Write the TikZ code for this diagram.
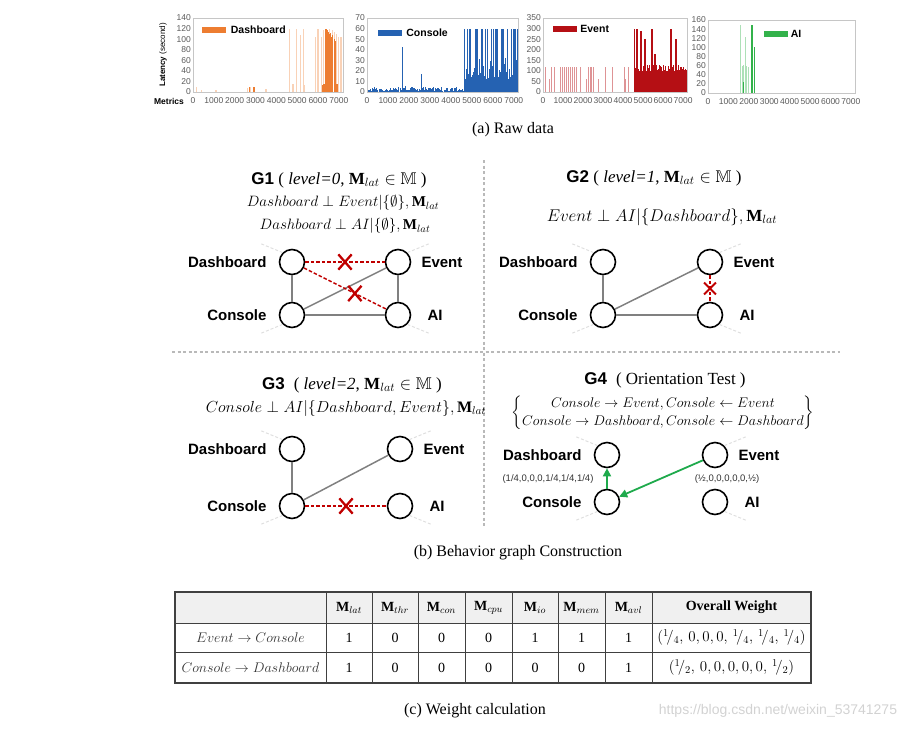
\documentclass[tikz,border=0pt]{standalone}
\usepackage{fix-cm}
\usepackage{amsmath}
\usepackage{amssymb}
\usepackage{fontspec}
\setmainfont{Liberation Serif}
\setsansfont{Liberation Sans}
\usepackage{xcolor}
\usepackage{tikz}
\usetikzlibrary{arrows.meta, positioning, shapes.misc}

\definecolor{dashorange}{HTML}{ED7D31}
\definecolor{consoleblue}{HTML}{2562B2}
\definecolor{eventred}{HTML}{B50F14}
\definecolor{aigreen}{HTML}{33B24B}
\definecolor{cutred}{HTML}{C00000}
\definecolor{arrowgreen}{HTML}{1FAA4C}

% frame and tick labels of one small chart: #1 max value, #2 step
\newcommand{\chartaxes}[2]{%
  \draw[chartframe] (0,0) rectangle (7200,#1);
  \foreach \val in {0,#2,...,#1}
    \node[ytick] (yt\val) at (0,\val) {\val};
  \foreach \m in {0,1000,...,7000}
    \node[xtick] (xt\m) at (\m,0) {\m};
}

\begin{document}
\begin{tikzpicture}[
    x=1pt, y=-1pt,
    chartframe/.style={draw=gray!45, line width=0.6pt},
    ytick/.style={anchor=east, inner sep=2pt, text=gray!70!black, font=\sffamily\fontsize{8.5}{9}\selectfont},
    xtick/.style={anchor=north, inner sep=0pt, yshift=-5pt, text=gray!70!black, font=\sffamily\fontsize{8.5}{9}\selectfont},
    swatch/.style={minimum width=24pt, minimum height=6pt, inner sep=0pt},
    legendtxt/.style={inner sep=0pt, font=\sffamily\bfseries\fontsize{10.5}{12}\selectfont},
    caption/.style={font=\fontsize{16}{19}\selectfont},
    separator/.style={draw=gray!55, line width=2.2pt, dash pattern=on 3pt off 2.5pt},
    gtitle/.style={font=\fontsize{17}{20}\selectfont},
    cond/.style={font=\fontsize{15}{18}\selectfont},
    vtx/.style={circle, draw, line width=1.6pt, fill=white, minimum size=25pt, inner sep=0pt},
    vlbl/.style={inner sep=0pt, font=\sffamily\bfseries\fontsize{15}{17}\selectfont},
    link/.style={draw=gray, line width=1.5pt},
    cutlink/.style={draw=cutred, line width=1.5pt, dash pattern=on 3.5pt off 2pt},
    cutx/.style={cross out, solid, draw=cutred, line width=2.3pt, minimum width=11pt, minimum height=13pt, inner sep=0pt},
    faint/.style={draw=gray!25, line width=1pt, dash pattern=on 3pt off 2pt},
    orient/.style={draw=arrowgreen, line width=1.8pt, -{Triangle[length=8pt, width=8pt]}},
    wlbl/.style={font=\sffamily\fontsize{9.5}{11}\selectfont, text=black!80},
    tline/.style={draw=black!75, line width=0.9pt},
    cell/.style={font=\fontsize{14}{16}\selectfont},
]
\useasboundingbox (0,0) rectangle (921,732);

% (a) raw data charts
\begin{scope}[xshift=193pt, yshift=-92pt, x=0.020833pt, y=0.52857pt]
  \foreach \p/\h in {150/10, 400/3, 1100/4, 2600/7, 2750/10, 3500/6, 4650/120, 4800/15, 4980/120, 5170/108, 5300/120, 5330/14, 5880/105, 6000/120, 6180/105, 6250/118, 6550/120, 6700/118, 6800/114, 6900/110, 7000/105, 7100/104}
    \fill[dashorange!35] (\p-30,0) rectangle (\p+30,\h);
  \foreach \p/\h in {2720/9, 2900/10, 2950/10, 6200/14, 6260/16, 6320/15, 6380/120, 6420/119, 6470/117, 6520/114, 6570/110, 6620/112, 6670/104, 6720/108, 6780/100, 6840/96, 6900/15, 6960/15}
    \fill[dashorange] (\p-25,0) rectangle (\p+25,\h);
  \chartaxes{140}{20}
\end{scope}

\begin{scope}[xshift=367pt, yshift=-92pt, x=0.020972pt, y=1.05714pt]
  \pgfmathsetseed{7}
  \foreach \p [evaluate={\p as \h using 1+3.5*rnd}] in {0,50,...,4600}
    \fill[consoleblue] (\p,0) rectangle (\p+40,\h);
  \foreach \p/\h in {1700/43, 1850/6, 2600/17, 3150/5}
    \fill[consoleblue] (\p-25,0) rectangle (\p+25,\h);
  \fill[consoleblue] (4650,0) rectangle (7200,12);
  \foreach \p [evaluate={\p as \h using ifthenelse(rnd>0.45,60,12+22*rnd)}] in {4650,4700,...,7150}
    \fill[consoleblue] (\p,0) rectangle (\p+40,\h);
  \chartaxes{70}{10}
\end{scope}

\begin{scope}[xshift=543pt, yshift=-92pt, x=0.02pt, y=0.21143pt]
  \foreach \p/\h in {100/120, 300/60, 400/120, 550/120, 850/120, 950/120, 1050/120, 1150/120, 1250/120, 1350/120, 1450/120, 1550/120, 1650/120, 1850/120, 2150/60, 2250/120, 2350/120, 2420/120, 2500/120, 2750/60, 3130/120, 3450/120, 4050/120, 4100/60, 4250/120}
    \fill[eventred!45] (\p-18,0) rectangle (\p+18,\h);
  \fill[eventred] (4600,0) rectangle (7200,100);
  \foreach \p [evaluate={\p as \h using 95+35*rnd}] in {4600,4650,...,7150}
    \fill[eventred] (\p,0) rectangle (\p+40,\h);
  \foreach \p/\h in {4580/300, 4700/300, 4900/290, 5100/250, 5450/300, 5600/180, 6400/300, 6650/250}
    \fill[eventred] (\p-30,0) rectangle (\p+30,\h);
  \chartaxes{350}{50}
\end{scope}

\begin{scope}[xshift=708pt, yshift=-93pt, x=0.020417pt, y=0.45625pt]
  \foreach \p/\h in {1600/150, 1680/60, 1750/62, 1830/123, 1900/60, 1980/58, 2150/55}
    \fill[aigreen!40] (\p-30,0) rectangle (\p+30,\h);
  \foreach \p/\h in {1720/25, 1760/20, 2150/150, 2200/150, 2260/100}
    \fill[aigreen] (\p-25,0) rectangle (\p+25,\h);
  \chartaxes{160}{20}
\end{scope}

\node[rotate=90, font=\sffamily\fontsize{8}{9}\selectfont] (ylab) at (163,55) {\textbf{Latency} (second)};
\node[font=\sffamily\bfseries\fontsize{8.5}{9}\selectfont] (xlab) at (169,101) {Metrics};

% Legends
\node[swatch, fill=dashorange] (sw1) at (213.5,30) {};
\node[legendtxt, right=5pt of sw1] (lg1) {Dashboard};
\node[swatch, fill=consoleblue] (sw2) at (390,33) {};
\node[legendtxt, right=4pt of sw2] (lg2) {Console};
\node[swatch, fill=eventred] (sw3) at (565,29) {};
\node[legendtxt, right=3pt of sw3] (lg3) {Event};
\node[swatch, fill=aigreen] (sw4) at (775.5,34) {};
\node[legendtxt, right=3pt of sw4] (lg4) {AI};

\node[caption] (capa) at (513,130) {(a) Raw data};

% (b) separators
\draw[separator] (484,160) -- (484,528);
\draw[separator] (172,352) -- (840,352);

% Titles and tests
\node[gtitle] (g1t) at (339,180) {{\sffamily\bfseries G1} ( \textit{level=0}, $\mathbf{M}_{lat}\in\mathbb{M}$ )};
\node[cond] (g1s1) at (343,203) {$Dashboard\perp Event|\{\emptyset\},\mathbf{M}_{lat}$};
\node[cond] (g1s2) at (345,226) {$Dashboard\perp AI|\{\emptyset\},\mathbf{M}_{lat}$};
\node[gtitle] (g2t) at (654,178) {{\sffamily\bfseries G2} ( \textit{level=1}, $\mathbf{M}_{lat}\in\mathbb{M}$ )};
\node[cond, font=\fontsize{17}{20}\selectfont] (g2s1) at (662,217) {$Event\perp AI|\{Dashboard\},\mathbf{M}_{lat}$};
\node[gtitle] (g3t) at (352,385) {{\sffamily\bfseries G3}\; ( \textit{level=2}, $\mathbf{M}_{lat}\in\mathbb{M}$ )};
\node[cond, font=\fontsize{16}{19}\selectfont] (g3s1) at (346,408) {$Console\perp AI|\{Dashboard, Event\},\mathbf{M}_{lat}$};
\node[gtitle] (g4t) at (665,380) {{\sffamily\bfseries G4}\; ( Orientation Test )};
\node[cond, font=\fontsize{14}{16}\selectfont] (g4s1) at (663,413) {$\left\{\begin{array}{@{}c@{}}Console\rightarrow Event, Console\leftarrow Event\\[2pt] Console\rightarrow Dashboard, Console\leftarrow Dashboard\end{array}\right\}$};

% Nodes
\foreach \g/\x/\y/\w/\dy in {g1/292/262/106/53, g2/603/262/107/53, g3/292/449/108/57, g4/607/455/108/47} {
  \node[vtx] (\g d) at (\x,\y) {};
  \node[vtx] (\g e) at (\x+\w,\y) {};
  \node[vtx] (\g c) at (\x,\y+\dy) {};
  \node[vtx] (\g a) at (\x+\w,\y+\dy) {};
  \node[vlbl, left=12pt of \g d] (\g dl) {Dashboard};
  \node[vlbl, right=10pt of \g e] (\g el) {Event};
  \node[vlbl, left=12pt of \g c] (\g cl) {Console};
  \node[vlbl, right=16pt of \g a] (\g al) {AI};
  \draw[faint] (\g d.north west) -- ++(-22,-9);
  \draw[faint] (\g e.north east) -- ++(22,-9);
  \draw[faint] (\g c.south west) -- ++(-22,9);
  \draw[faint] (\g a.south east) -- ++(22,9);
}

% Edges
\draw[link] (g1d) -- (g1c);
\draw[link] (g1c) -- (g1e);
\draw[link] (g1c) -- (g1a);
\draw[link] (g1e) -- (g1a);
\draw[cutlink] (g1d) -- node[cutx] (x1) {} (g1e);
\draw[cutlink] (g1d) -- node[cutx, pos=0.62] (x2) {} (g1a);

\draw[link] (g2d) -- (g2c);
\draw[link] (g2c) -- (g2e);
\draw[link] (g2c) -- (g2a);
\draw[cutlink] (g2e) -- node[cutx, line width=1.8pt, minimum width=10pt, minimum height=10pt] (x3) {} (g2a);

\draw[link] (g3d) -- (g3c);
\draw[link] (g3c) -- (g3e);
\draw[cutlink] (g3c) -- node[cutx] (x4) {} (g3a);

\draw[orient] (g4c) -- (g4d);
\draw[orient] (g4e) -- (g4c);
\node[wlbl] (w1) at (548,479) {(1/4,0,0,0,1/4,1/4,1/4)};
\node[wlbl] (w2) at (727,479) {(½,0,0,0,0,0,½)};

\node[caption] (capb) at (518,553) {(b) Behavior graph Construction};

% (c) table
\fill[gray!12] (175,592) rectangle (811,623);
\foreach \x in {326,372,418,465,512,558,605,652}
  \draw[tline] (\x,592) -- (\x,683);
\draw[tline] (175,623) -- (811,623);
\draw[tline] (175,652) -- (811,652);
\draw[tline, line width=1.3pt] (175,592) rectangle (811,683);

\foreach \x/\sub in {349/lat, 395/thr, 441.5/con, 488.5/cpu, 535/io, 581.5/mem, 628.5/avl}
  \node[cell] (m\sub) at (\x,607.5) {$\mathbf{M}_{\sub}$};
\node[cell, font=\bfseries\fontsize{14}{16}\selectfont] (mall) at (731.5,607.5) {Overall Weight};
\node[cell, text=black!80] (r1) at (250.5,637.5) {$Event\rightarrow Console$};
\node[cell, text=black!80] (r2) at (250.5,667.5) {$Console\rightarrow Dashboard$};
\foreach \x/\ra/\rb [count=\i] in {349/1/1, 395/0/0, 441.5/0/0, 488.5/0/0, 535/1/0, 581.5/1/0, 628.5/1/1} {
  \node[cell] (a\i) at (\x,637.5) {\ra};
  \node[cell] (b\i) at (\x,667.5) {\rb};
}
\node[cell, font=\fontsize{15}{17}\selectfont] (wt1) at (731.5,637.5) {$({}^1\!/_4,\,0,0,0,\,{}^1\!/_4,\,{}^1\!/_4,\,{}^1\!/_4)$};
\node[cell, font=\fontsize{15}{17}\selectfont] (wt2) at (731.5,667.5) {$({}^1\!/_2,\,0,0,0,0,0,\,{}^1\!/_2)$};

\node[caption] (capc) at (475,711) {(c) Weight calculation};
\node[font=\sffamily\fontsize{14}{16}\selectfont, text=gray!35] (wm) at (778,711) {https://blog.csdn.net/weixin\_53741275};

\end{tikzpicture}
\end{document}
